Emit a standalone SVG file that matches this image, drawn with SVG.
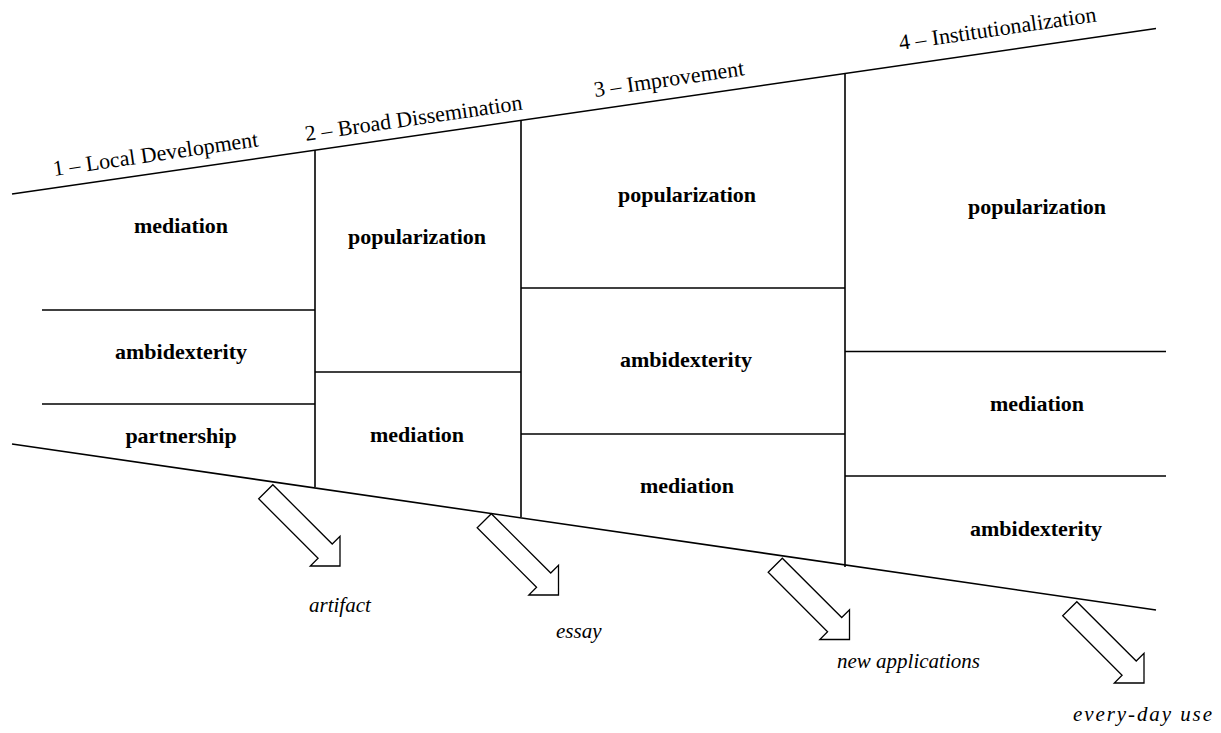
<svg xmlns="http://www.w3.org/2000/svg" width="1221" height="733" viewBox="0 0 1221 733">
<style>
.ln{stroke:#000;stroke-width:1.6;fill:none}
.lbl{font-family:'Liberation Serif','DejaVu Serif',serif;font-size:22px;font-weight:bold;fill:#000;text-anchor:middle}
.stage{font-family:'Liberation Serif','DejaVu Serif',serif;font-size:22px;fill:#000}
.out{font-family:'Liberation Serif','DejaVu Serif',serif;font-size:21px;font-style:italic;fill:#000}
.arr{fill:#fff;stroke:#000;stroke-width:1.3;stroke-linejoin:miter}
</style>
<defs>
<polygon id="blockArrow" class="arr" points="0,0 -21,-21 -21,-10 -105,-10 -105,10 -21,10 -21,21"/>
</defs>
<rect width="1221" height="733" fill="#fff"/>
<g id="connectors">
<line class="ln" x1="12" y1="194" x2="1156" y2="28.5"/>
<line class="ln" x1="12" y1="444" x2="1156" y2="610"/>
<line class="ln" x1="315" y1="150" x2="315" y2="487"/>
<line class="ln" x1="521" y1="120.5" x2="521" y2="517"/>
<line class="ln" x1="845" y1="73.5" x2="845" y2="567"/>
<line class="ln" x1="42" y1="310" x2="315" y2="310"/>
<line class="ln" x1="42" y1="404" x2="315" y2="404"/>
<line class="ln" x1="315" y1="372" x2="521" y2="372"/>
<line class="ln" x1="521" y1="288" x2="845" y2="288"/>
<line class="ln" x1="521" y1="434" x2="845" y2="434"/>
<line class="ln" x1="845" y1="351.5" x2="1166" y2="351.5"/>
<line class="ln" x1="845" y1="476" x2="1166" y2="476"/>
</g>
<g id="stage1"><text class="stage" transform="translate(54,176) rotate(-8.26)">1 – Local Development</text></g>
<g id="stage2"><text class="stage" transform="translate(306,141) rotate(-8.26)">2 – Broad Dissemination</text></g>
<g id="stage3"><text class="stage" transform="translate(595,97) rotate(-8.26)">3 – Improvement</text></g>
<g id="stage4"><text class="stage" transform="translate(900,50) rotate(-8.26)">4 – Institutionalization</text></g>
<g id="c1-mediation"><text class="lbl" x="181" y="233">mediation</text></g>
<g id="c1-ambidexterity"><text class="lbl" x="181" y="359">ambidexterity</text></g>
<g id="c1-partnership"><text class="lbl" x="181" y="443">partnership</text></g>
<g id="c2-popularization"><text class="lbl" x="417" y="244">popularization</text></g>
<g id="c2-mediation"><text class="lbl" x="417" y="442">mediation</text></g>
<g id="c3-popularization"><text class="lbl" x="687" y="202">popularization</text></g>
<g id="c3-ambidexterity"><text class="lbl" x="686" y="367">ambidexterity</text></g>
<g id="c3-mediation"><text class="lbl" x="687" y="493">mediation</text></g>
<g id="c4-popularization"><text class="lbl" x="1037" y="214">popularization</text></g>
<g id="c4-mediation"><text class="lbl" x="1037" y="411">mediation</text></g>
<g id="c4-ambidexterity"><text class="lbl" x="1036" y="536">ambidexterity</text></g>
<g id="arrow1"><use href="#blockArrow" transform="translate(340,566) rotate(45)"/></g>
<g id="arrow2"><use href="#blockArrow" transform="translate(558.5,595) rotate(45)"/></g>
<g id="arrow3"><use href="#blockArrow" transform="translate(849.5,639.5) rotate(45)"/></g>
<g id="arrow4"><use href="#blockArrow" transform="translate(1144,683) rotate(45)"/></g>
<g id="out-artifact"><text class="out" x="309" y="612">artifact</text></g>
<g id="out-essay"><text class="out" x="556" y="638">essay</text></g>
<g id="out-newapps"><text class="out" x="837" y="668">new applications</text></g>
<g id="out-everyday"><text class="out" x="1073" y="721" textLength="139" lengthAdjust="spacing">every-day use</text></g>
</svg>
